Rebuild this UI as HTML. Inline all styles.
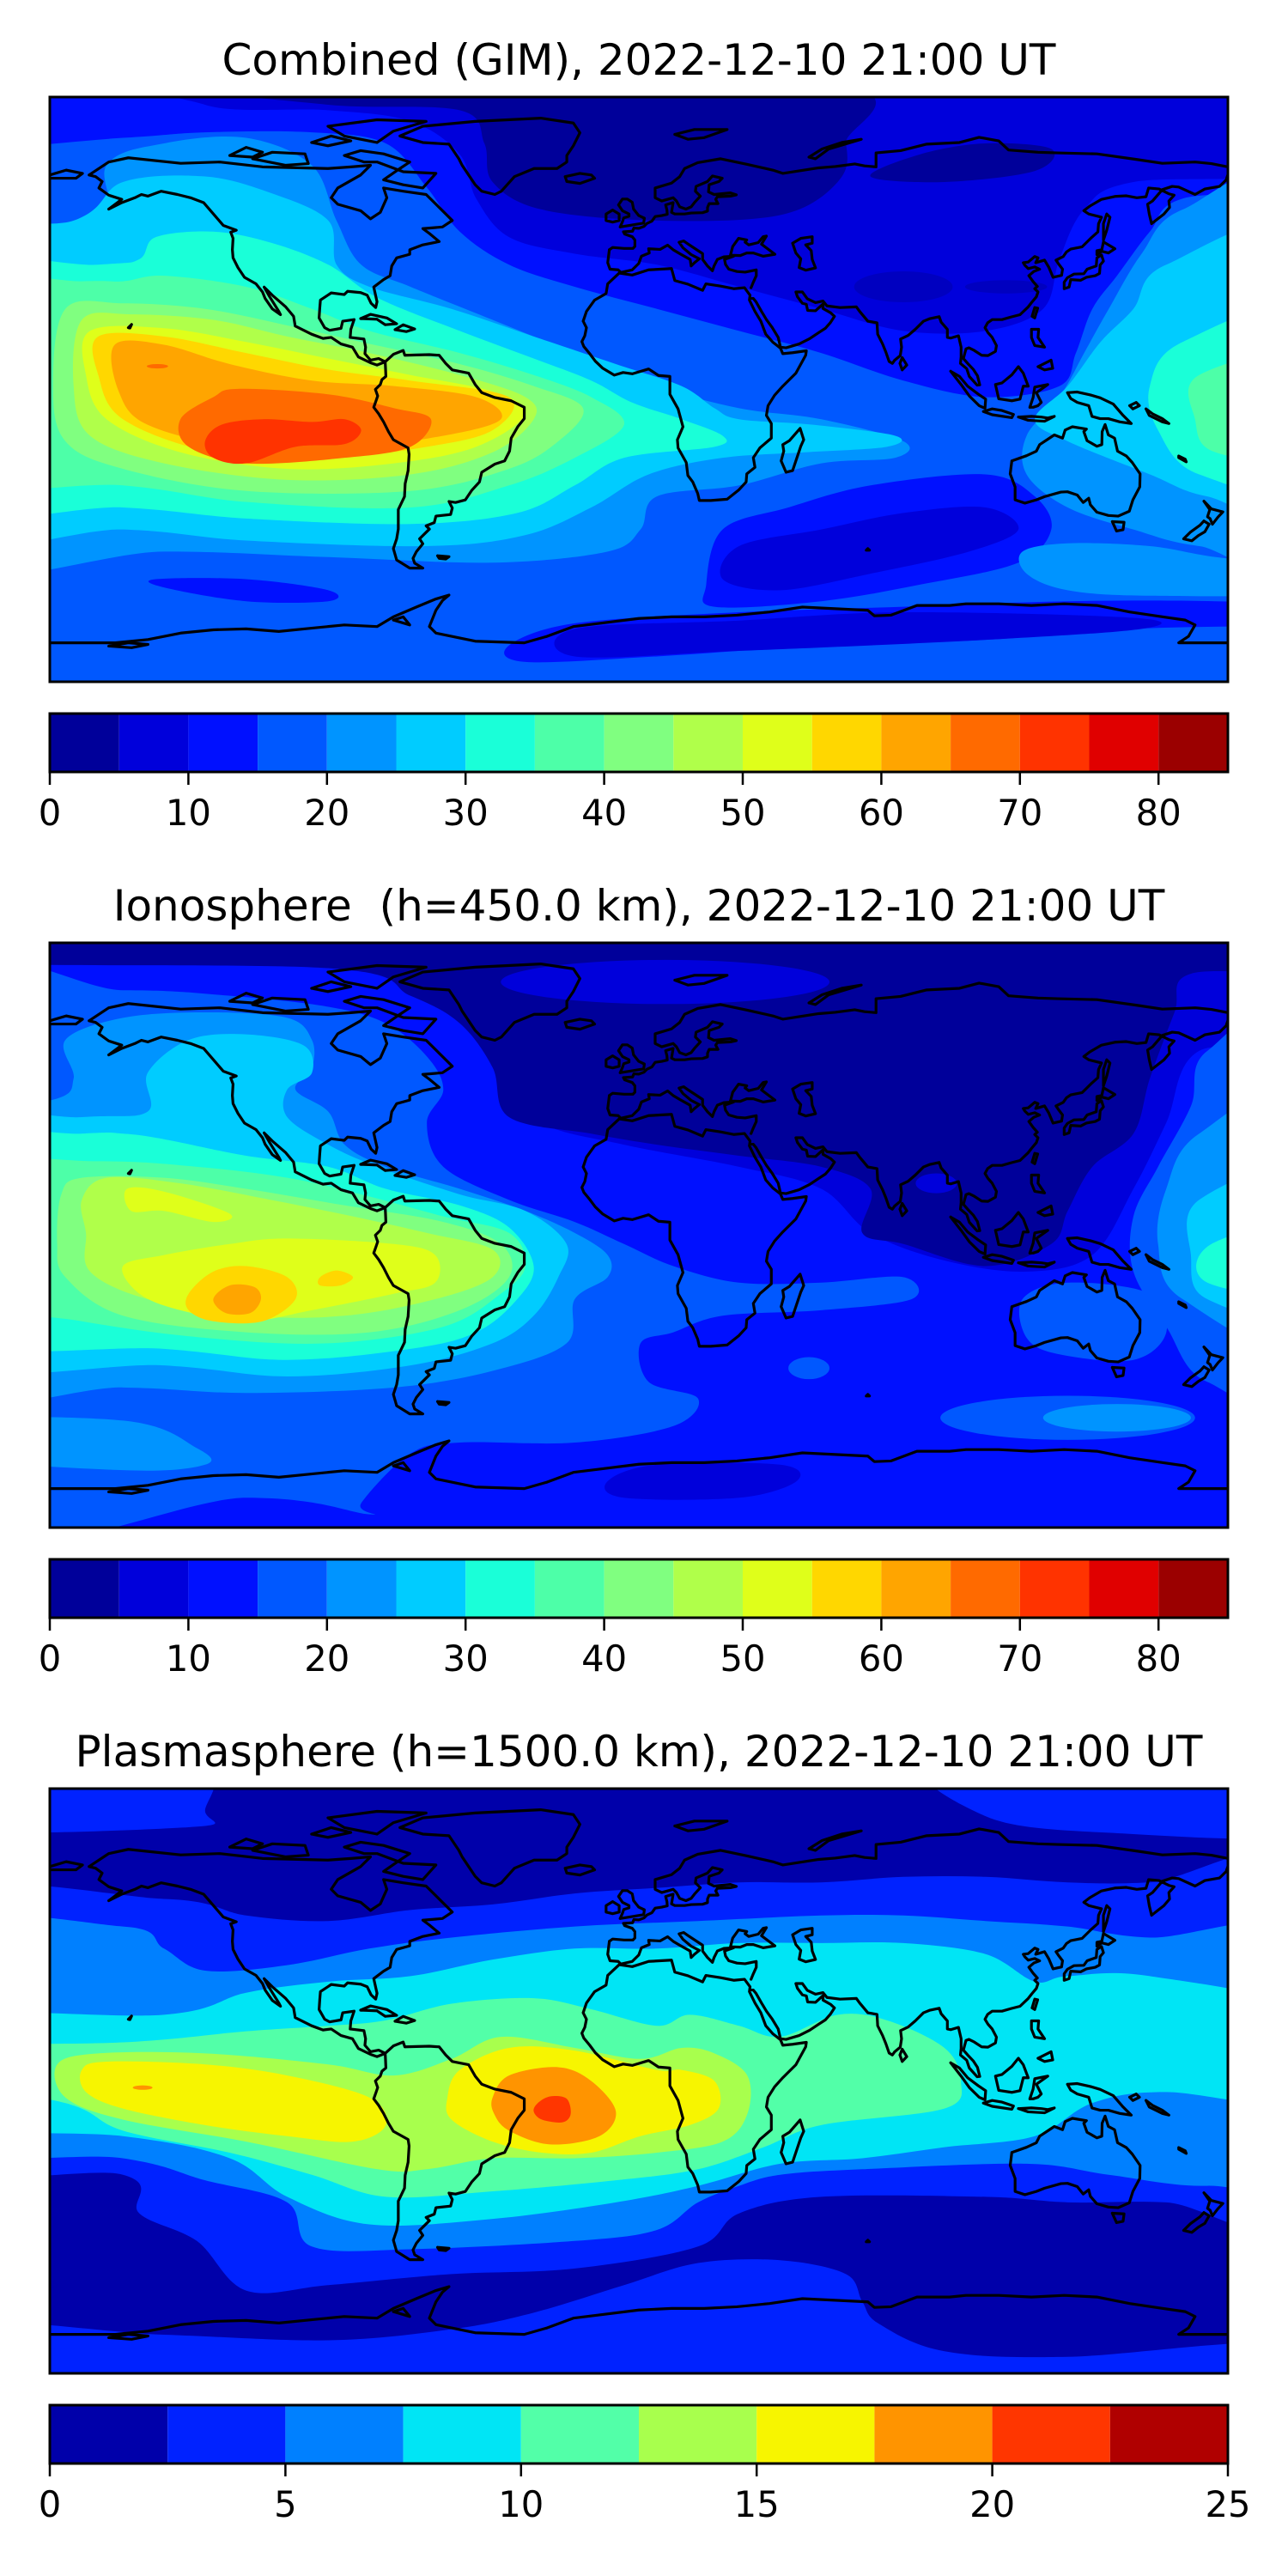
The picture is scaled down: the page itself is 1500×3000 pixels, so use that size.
<!DOCTYPE html>
<html><head><meta charset="utf-8"><style>
html,body{margin:0;padding:0;background:#fff;}
svg{display:block;}
text{font-family:"DejaVu Sans","Liberation Sans",sans-serif;fill:#000;}
.c{fill:none;stroke:#000;stroke-width:3.2;stroke-linejoin:round;stroke-linecap:round;vector-effect:non-scaling-stroke;}
</style></head><body>
<svg id="root" width="1500" height="3000" viewBox="0 0 1500 3000" xmlns="http://www.w3.org/2000/svg" xmlns:xlink="http://www.w3.org/1999/xlink">
<defs>
<g id="coast">
<polyline class="c" points="-168,66 -162,70 -156,71.3 -140,69.6 -128,70 -115,68.5 -95,68 -88,68.5 -82,69 -85,66 -92,62 -94,59 -92,57 -85,55 -82,52.5 -79,54.5 -77,59 -78,62 -72,61 -65,60 -61,56 -57,52 -60,50 -66,49.5 -64,48 -61,45.5 -66,44.5 -70,43 -70,41.6 -74,40.5 -75.5,38 -76,35 -78,33.8 -81,31.5 -80,27 -80.4,25.2 -81.8,26.5 -83,29 -85,29.8 -89,30.2 -90,29.2 -94,29.7 -97.3,27.5 -97.5,25 -97.7,22 -96,19 -94.5,18.2 -91,18.8 -90.5,21 -87,21.5 -88,18.5 -88.2,16 -84,15.5 -83.5,13 -83.7,11 -82,9 -79.5,9.5 -77.5,8.5 -80,7.5 -82,8.2 -85.7,10 -87.5,13 -91,14 -94,16 -96.5,15.7 -100,17 -105,19.5 -105.5,22.5 -108,25.5 -112,29 -114.5,31.5 -112.8,28.5 -110,24 -109.5,23 -112,24.8 -114.2,28 -115,30 -117,32.5 -120.5,34.5 -122.5,37.5 -124,40.5 -124.2,43 -124,46.5 -124.7,48.4 -123,49 -127,50.5 -130,54 -133,57.5 -137,59 -141,60 -146,61 -150,59.5 -152,60 -154,59 -158,57.5 -162,55.5 -158,58.5 -162,59.8 -165,62 -164,64 -166,65.5 -168,66"/>
<polyline class="c" points="-73,78 -66,81 -50,82.5 -30,83.5 -20,82 -18,79 -20,75 -22,72 -22,70 -25,68 -32,68 -38,65.5 -42,61 -44,60 -48,61 -50,63 -52,66 -54,69 -55,71 -58,75.5 -66,76 -73,78"/>
<polyline class="c" points="-62,66.5 -66,62 -72,63 -78,64.5 -73,68 -70,70 -78,72.5 -85,73.5 -90,72 -84,70 -80,70 -72,67 -62,66.5"/>
<polyline class="c" points="-80,76 -75,79.5 -65,82.5 -80,83 -95,81 -90,78 -80,76"/>
<polyline class="c" points="-118,71 -112,73 -102,72.5 -101,69.5 -108,69 -118,71"/>
<polyline class="c" points="-125,72 -120,74.5 -115,73 -118,71.5 -125,72"/>
<polyline class="c" points="-100,76 -94,78 -88,76.5 -95,75 -100,76"/>
<polyline class="c" points="-77.5,8.5 -75,10.8 -72,12 -71.5,10.5 -68,10.6 -64,10.7 -61,10.5 -59,8 -57,6 -52,5 -50,1.5 -48,-1 -44,-2.5 -39,-3.5 -35,-5.5 -35,-9 -37,-11.5 -39,-15 -39.5,-19 -41,-22 -44,-23 -48,-25.5 -48.7,-28.5 -51,-31 -53,-34 -56,-34.8 -58,-34.5 -57,-36.5 -57.5,-38.5 -62,-39 -62.5,-41 -65,-42 -64,-43 -67,-46 -66,-47.5 -68,-50 -69,-52 -68.5,-53.5 -66,-55 -70,-55 -74,-52.5 -75,-49 -74,-46 -73.5,-43 -73.5,-40 -73.5,-37 -71.6,-33 -71.4,-29 -70.5,-25 -70.2,-20 -70.5,-18 -75,-15.5 -76.5,-13 -78,-10 -79.5,-7.5 -81,-5.5 -80.3,-3.5 -79.8,-2 -80.5,0 -79,1.5 -78.5,3 -77.3,4 -77.4,6.5 -77.5,8.5"/>
<polyline class="c" points="-85,21.8 -82,23.1 -77,22 -74,20.2 -77.5,19.9 -80,21.6 -85,21.8"/>
<polyline class="c" points="-74.5,18.4 -72,19.9 -68.5,18.6 -71,17.8 -74.5,18.4"/>
<polyline class="c" points="-61.5,-51.2 -58,-51.5 -59,-52.2 -61,-52 -61.5,-51.2"/>
<polyline class="c" points="-156,19 -155,20 -155.5,18.9 -156,19"/>
<polyline class="c" points="-17,21 -16,24 -13.5,27.5 -10,29.5 -9.5,32.5 -6,35.8 -2,35.2 3,36.8 10,37.2 11,33.5 15,32.4 19.5,30.5 20.5,32.5 25,31.8 29,31 32.3,31.3 34,29 33.8,27.5 35.5,24 37.3,21 38.8,17 41,14.5 43.3,12.7 44,11 47,11.3 51.2,11.9 51,10.5 48,5 44,1 41.5,-1.8 39.5,-5 39,-8 40.5,-10.5 40.5,-15 37,-18 35,-21 35.5,-24 33,-26 32.8,-28.5 30.5,-31 27,-33.8 22,-34.2 18.5,-34.2 18,-32 16.5,-28.5 15,-26.5 14.5,-22.5 12,-18 11.8,-15.5 13.5,-11.5 12,-6 9.5,-1.5 9.5,2 9.5,4 6,4.3 3,6.3 -2,4.8 -4.8,5.2 -7.5,4.4 -11,6.5 -13.3,8.7 -15,11 -16.8,13.2 -17.4,14.7 -16.5,16.5 -16,19 -17,21"/>
<polyline class="c" points="49.3,-12 50.4,-15.5 49.5,-17.5 48,-22 47,-25 45,-25.5 43.5,-22 44.3,-19 44,-17 46,-15.8 48,-13.5 49.3,-12"/>
<polyline class="c" points="-9,43 -9.5,39 -8.8,37 -6.3,36.8 -5.5,36 -2,36.8 0,38.8 0.8,41 3.2,42 3,43.3 6.5,43.1 8.8,44.4 10.5,43 12.5,41.8 15.7,40 16,38 17,39 18.5,40.2 16,41.5 13.5,43.6 12.3,45.3 13.7,45.7 15,44.8 19.5,41.8 19.5,40 21,38 22.5,36.5 23,38 24,40 26,40.8 29,41 26.2,40 26.5,38.5 27.5,37 30,36.3 32.5,36.1 35.9,36.8 35.9,35 35,33 34.3,31.3"/>
<polyline class="c" points="34.6,28 35,28 35.8,27 37.5,24 39,21.5 40.8,19 42.6,16 43.3,13 45,12.8 49,14 52.2,15.6 55,17.5 57,18.8 58.5,20.5 59.8,22.5 58.6,23.6 56.3,24.9 56.3,26.3 54,24.2 51.6,24.3 51.2,26.2 50,26.5 48.5,28.5 48,30 50,30 51.5,27.9 54,26.7 56.3,27.2 57.5,25.7 61.5,25.2 66.5,25.4 67.5,24 70,21 72.8,20.5 73,17 74.5,14 75.5,11.5 76.5,8.6 77.5,8 78.2,9 79.9,10.4 80.3,13 80,15.5 82.3,16.6 84.5,18.5 87,21 89,21.8 91.8,22.4 92.4,20.7 94.3,18.5 94.3,16 95.3,15.8 97.7,16.5 98.5,13 98.5,10 98.3,8 100.2,6.4 101,4 103.4,1.3 104.2,1.4 103.5,4.2 102.2,6.2 100.5,8 99.2,9.5 100,12.5 100.9,12.8 102.5,12 104.8,10.5 106.7,10.4 109,11.7 109.3,13.5 108,16 106.7,17.5 105.8,19 106.6,20.5 108,21.5 109.5,21.5 111,21.5 113.8,22.3 116.5,23 119,25.4 120,26.7 121.5,28.5 122,30 121,31 121.8,31.7 120.5,33.2 119.2,35 120.7,36.3 122.5,37 121,37.7 119,37.2 118,38.2 117.5,39 119,39.2 121,40.9 122,40.5 121.3,39 124,39.8 125.3,37.6 126.6,34.5 129.2,35.1 129.5,37 128.3,38.6 127.5,39.8 129.7,40.9 130.7,42.3 132,43.2 135.5,43.9 138.2,46.6 140.3,48.5 140.5,51 141.4,53 137.5,54 136,55 137.8,56.4 141.4,58.5 145.5,59.4 149,59.6 152.2,59 155,59.3 155.8,62 159,61.7 162,60.2 163.6,59.8 162,58 162.2,56 160.5,54 156.7,51 156,54 155.5,57 157,58 160,61.5 163,62.5 165,62.3 170,60 173,61.7 177.5,62.5 179.5,64.5 180,66"/>
<polyline class="c" points="180,68.5 175,69.5 170,70 160,69.6 152,70.8 140,72.5 128,72.8 122,73 113,73.7 110,76.5 104,77.6 98,76 88,75.5 80,73.5 72.5,72.8 72.5,68.5 69,68.8 66,69.4 60,68.6 55,68.2 44,66.5 41,67.5 33,69.3 25,71 18,69.8 14,68 12.5,65.5 10,63.5 5,62 5,59 7,58 10.5,59 11.5,58 12.5,56.2 14.4,55.5 16,56.2 17,57.5 18.8,59.5 17.3,61 17.5,62.5 21,64 22.5,65.7 25.5,65 24.5,64 21.5,63 21.3,60.8 23,60 28,60.5 29.8,59.9 28,59.5 24,59.3 23.5,58.5 24.2,57.2 21.5,57.2 21,56 21,54.9 19.5,54.4 16,54.3 14,54 11,54 10,54.5 10.5,57.5 8.2,56.8 8.6,55.2 8.7,53.9 7,53.5 5,53.2 4,51.8 2.5,51.1 1.6,50.2 0,49.6 -1.5,49.7 -1.9,48.7 -4.7,48.5 -4.3,47.8 -2,47 -1.2,46 -1.2,44 -1.8,43.4 -4.5,43.4 -8,43.7 -9,43"/>
<polyline class="c" points="-180,66 -175,67.5 -170,66.5 -172,65 -180,65"/>
<polyline class="c" points="28,41.3 28.7,44 30.5,46.5 33,46 32.5,45.3 33.6,44.5 36.5,45.2 38,47 39,47.2 37.5,44.7 41.6,41.6 38,41 35,42 33,42 31,41.2 28,41.3"/>
<polyline class="c" points="47,45 49.5,46.5 53,47 53,45 51,44.5 52.7,42.7 53,40 54,37.4 51,36.7 49,37.5 49.5,40.2 48,42 47,45"/>
<polyline class="c" points="-5.7,50 1.5,51.2 1.7,52.7 0,53.5 -1.6,55.5 -2,57.6 -3.5,58.6 -5,58.6 -6.2,56.8 -5,55 -3,54 -3,53.3 -4.6,52.8 -5,51.6 -5.7,50"/>
<polyline class="c" points="-6,52 -6,54 -8,55.2 -10,54 -10,52 -8,51.5 -6,52"/>
<polyline class="c" points="-22,64 -22.5,65.5 -18,66.5 -14.5,66 -13.5,65 -18,63.4 -22,64"/>
<polyline class="c" points="11,78.5 17,80 27,80 20,77.5 15,77 11,78.5"/>
<polyline class="c" points="52,71.5 56,74 62,76 68,77 58,74 54,71 52,71.5"/>
<polyline class="c" points="130,31 131.5,31.5 132,33.8 135,33.6 136.8,34.5 139.5,35 140.8,35.7 141,38.3 142,39.5 141.4,41.4 140,40.5 139.8,38 137,37 136,35.6 133,35.5 131,34.4 130,33 130,31"/>
<polyline class="c" points="140,41.5 141.5,42.5 143.5,42 145.5,43.3 142,45.4 141.5,43 140,42.7 140,41.5"/>
<polyline class="c" points="142,46 143,49 144,53 143,54 142,51 142,46"/>
<polyline class="c" points="120.2,22.5 121,22 121.9,25 121,25.2 120.2,22.5"/>
<polyline class="c" points="79.8,8 80.5,9.8 81.9,7.5 80.5,6 79.8,8"/>
<polyline class="c" points="120,18.5 122.2,18.5 122,16 124,13 121,13.5 120,16 120,18.5"/>
<polyline class="c" points="122,7 126,9 126.5,6.5 124,6 122,7"/>
<polyline class="c" points="109,1.5 110,-2.9 114,-3.5 116.5,-3 117.5,1 119,1 117.5,5 116,7 114,4.5 111,2 109,1.5"/>
<polyline class="c" points="95.3,5.6 98,4 100.5,1 103.8,-1.5 106,-3 105.8,-5.8 104,-5 101,-2 98.5,1.5 95.3,5.6"/>
<polyline class="c" points="105.3,-6.8 108,-6 111,-6.5 114.5,-7.7 114,-8.7 108,-7.8 105.3,-6.8"/>
<polyline class="c" points="116,-8.5 120,-8.3 123,-8.5 125,-8.8 127,-8.3 124,-9.8 119,-9.5 116,-8.5"/>
<polyline class="c" points="119.5,-5.5 120.5,-2.5 121,0.7 125,1.5 121.5,-1 123,-4 122,-5 120.5,-5.5 119.5,-5.5"/>
<polyline class="c" points="131,-1 134,-0.8 138,-1.7 141,-2.6 145,-4.5 148,-8 150.5,-10.5 147,-10 143.5,-9 141,-9 138.5,-8.3 137.5,-5 134,-4 132,-2.8 131,-1"/>
<polyline class="c" points="150,-5 152,-4 153,-5 151,-6 150,-5"/>
<polyline class="c" points="155,-6 157,-7.5 160,-9 162,-10.5 160,-10 156,-8 155,-6"/>
<polyline class="c" points="165,-20.5 167,-21.5 167.3,-22.3 165,-21 165,-20.5"/>
<polyline class="c" points="114,-22 113.5,-26 115,-30 115,-34 118,-35 121.5,-34 124,-33 129,-31.6 131,-31.5 134,-32.5 135.8,-34.8 137.5,-33.5 138,-35.5 140,-37.8 143.5,-38.8 146.5,-39 149.9,-37.5 151,-34 153.1,-30 153.2,-26 150.8,-22.5 149,-20.5 146.3,-19 145.4,-15 143.5,-14 142.5,-10.8 141.6,-13 141.5,-17 140,-17.5 137,-15.8 136,-13 136.8,-12.2 132.5,-11.5 130.3,-12.5 129.5,-15 127,-14 125.5,-15 122.5,-17 121.5,-19 118.5,-20.4 114,-22"/>
<polyline class="c" points="144.7,-40.7 148.3,-40.9 148,-43.2 146,-43.6 144.7,-40.7"/>
<polyline class="c" points="172.7,-34.4 175,-36.8 178.5,-37.7 177,-39.3 175.3,-41.5 174.6,-39.8 173.8,-39.2 174.5,-37 172.7,-34.4"/>
<polyline class="c" points="172.7,-40.5 174.3,-41.5 173,-43.8 171,-45 169,-46.6 166.5,-46 168.5,-44 171.5,-41.8 172.7,-40.5"/>
<polyline class="c" points="-180,-78 -160,-78 -150,-77 -140,-75 -130,-74 -120,-73.7 -110,-74.5 -100,-73.5 -90,-72.5 -80,-73 -75,-70 -68,-67 -62,-64.5 -58,-63.3 -60,-65 -62,-68 -64,-73 -62,-75 -50,-77.5 -35,-78 -28,-76 -20,-73 -12,-72 0,-70.5 10,-70 20,-70 30,-69.5 40,-68.5 50,-67 60,-67.5 70,-68 72,-69.7 77,-69.5 85,-66.5 95,-66.5 100,-66 110,-66 120,-66.5 130,-66 140,-66.5 150,-68.5 160,-70 167,-71 170,-72.5 168,-76 165,-78 180,-78"/>
<polyline class="c" points="-150,-78.5 -155,-79.5 -162,-79 -156,-78 -150,-78.5"/>
<polyline class="c" points="-75,-71 -70,-72.5 -72,-70 -75,-71"/>
<polyline class="c" points="70,-49 70.5,-49.5 69.5,-49.5 70,-49"/>
</g>
</defs>

<!-- ============ PANEL 1 ============ -->
<text x="744" y="87" font-size="50" text-anchor="middle">Combined (GIM), 2022-12-10 21:00 UT</text>
<svg x="58" y="113" width="1372" height="681" viewBox="0 0 1434 1060" preserveAspectRatio="none">
<g transform="translate(-61,-176)">
<rect x="61" y="176" width="1434" height="1060" fill="#0058ff"/>
<polygon class="s" fill="#0010ff" points="-100,176 1600,176 1600,330 1440,360 1400,420 1360,500 1330,560 1310,640 1290,700 1200,720 1100,690 1000,640 900,600 800,560 700,520 620,480 560,420 520,340 470,260 380,240 250,240 150,250 -100,270"/>
<polygon class="s" fill="#0010ff" points="860,1060 880,960 960,920 1060,880 1200,860 1260,900 1280,960 1240,1020 1120,1060 1000,1090 870,1100"/>
<polygon class="s" fill="#0010ff" points="620,1170 700,1130 900,1110 1100,1100 1300,1090 1480,1090 1600,1100 1600,1130 1380,1140 1200,1160 1000,1170 800,1190 640,1200"/>
<polygon class="s" fill="#0010ff" points="190,1050 300,1050 400,1070 400,1090 300,1090 200,1065"/>
<polygon class="s" fill="#0000db" points="200,100 1600,100 1600,300 1380,330 1320,380 1290,470 1270,560 1200,600 1100,600 1000,560 900,520 800,480 700,460 620,430 580,360 560,280 500,220 400,200 250,190"/>
<polygon class="s" fill="#0000db" points="880,1050 900,990 1000,960 1100,930 1200,920 1240,960 1180,1000 1060,1040 950,1070"/>
<polygon class="s" fill="#0000db" points="700,1140 900,1125 1100,1110 1380,1120 1390,1140 1200,1160 900,1180 700,1190"/>
<polygon class="s" fill="#00009a" points="240,150 1000,150 1030,260 1020,330 950,390 800,400 660,380 600,330 590,260 560,200 400,190"/>
<polygon class="s" fill="#00009a" points="1060,320 1120,280 1200,260 1280,270 1260,310 1150,330"/>
<ellipse fill="#0000c0" cx="1100" cy="520" rx="60" ry="28"/>
<ellipse fill="#0000c0" cx="1225" cy="520" rx="50" ry="12"/>
<polygon class="s" fill="#0094ff" points="1245,1000 1300,985 1400,990 1480,1010 1600,1030 1600,1075 1400,1080 1300,1070 1250,1040"/>
<polygon class="s" fill="#0094ff" points="-100,460 120,430 130,300 200,260 300,250 380,300 410,400 440,480 500,520 600,580 700,640 800,700 900,740 1000,760 1100,800 1090,830 1000,840 900,880 800,900 780,960 740,1000 600,1020 400,1010 200,1000 -100,1010"/>
<polygon class="s" fill="#0094ff" points="1600,330 1440,380 1390,460 1350,560 1320,640 1290,720 1250,790 1250,860 1300,920 1380,960 1460,990 1600,1000"/>
<polygon class="s" fill="#00ccff" points="-100,460 90,400 150,330 250,320 330,350 400,400 410,480 450,520 550,560 650,610 750,660 830,700 870,740 900,760 990,770 1090,790 1080,810 980,820 880,830 790,860 720,920 640,970 520,990 300,980 150,960 -100,960"/>
<polygon class="s" fill="#00ccff" points="1600,420 1420,480 1380,560 1340,620 1300,700 1260,760 1300,800 1400,860 1470,900 1600,920"/>
<polygon class="s" fill="#1affd8" points="-100,500 120,480 170,470 190,430 260,420 330,440 400,480 460,540 560,600 650,650 720,690 770,730 830,760 880,790 870,810 760,830 700,880 630,930 500,950 300,940 150,920 -100,910"/>
<polygon class="s" fill="#1affd8" points="1600,560 1440,620 1400,700 1410,780 1460,860 1600,880"/>
<polygon class="s" fill="#4dffa8" points="-100,520 100,510 150,510 200,500 300,520 380,560 450,600 560,640 650,680 720,720 760,770 700,830 620,880 500,920 300,910 150,880 -100,860"/>
<polygon class="s" fill="#4dffa8" points="1600,640 1460,680 1455,760 1480,820 1600,830"/>
<polygon class="s" fill="#80ff80" points="80,560 150,550 250,560 350,590 440,620 560,660 650,700 710,740 680,800 620,850 500,890 300,890 150,850 80,800 65,700"/>
<polygon class="s" fill="#b0ff4a" points="100,580 160,570 260,580 350,610 450,640 560,680 640,720 650,760 600,820 500,860 350,870 200,840 110,790 90,700"/>
<polygon class="s" fill="#dfff1a" points="110,600 200,595 300,620 400,650 500,680 600,710 640,750 580,810 480,840 350,850 220,820 130,760 105,680"/>
<polygon class="s" fill="#ffd700" points="120,610 200,610 300,640 400,670 500,690 620,720 600,780 520,810 400,830 260,820 150,760 120,680"/>
<polygon class="s" fill="#ffa500" points="140,625 200,625 280,660 380,690 480,700 580,720 610,760 540,790 430,810 290,810 180,770 145,710"/>
<polygon class="s" fill="#ff6a00" points="220,760 260,720 290,705 400,715 480,740 525,760 500,810 420,830 300,840 230,810"/>
<polygon class="s" fill="#ff3300" points="250,800 270,770 320,760 380,765 420,760 440,780 420,805 360,810 300,840 260,830"/>
<ellipse fill="#ff6a00" cx="192" cy="664" rx="13" ry="4"/>
</g>
<use xlink:href="#coast" href="#coast" transform="scale(3.983 5.889) translate(180 90) scale(1 -1)"/>
</svg>
<rect x="58" y="113" width="1372" height="681" fill="none" stroke="#000" stroke-width="3"/>

<!-- colorbar 1 -->
<g>
<rect x="58" y="831" width="80.7" height="68" fill="#00009a"/>
<rect x="138.7" y="831" width="80.7" height="68" fill="#0000db"/>
<rect x="219.4" y="831" width="80.7" height="68" fill="#0010ff"/>
<rect x="300.1" y="831" width="80.7" height="68" fill="#0058ff"/>
<rect x="380.8" y="831" width="80.7" height="68" fill="#0094ff"/>
<rect x="461.5" y="831" width="80.7" height="68" fill="#00ccff"/>
<rect x="542.2" y="831" width="80.7" height="68" fill="#1affd8"/>
<rect x="622.9" y="831" width="80.7" height="68" fill="#4dffa8"/>
<rect x="703.6" y="831" width="80.7" height="68" fill="#80ff80"/>
<rect x="784.3" y="831" width="80.7" height="68" fill="#b0ff4a"/>
<rect x="865" y="831" width="80.7" height="68" fill="#dfff1a"/>
<rect x="945.7" y="831" width="80.7" height="68" fill="#ffd700"/>
<rect x="1026.4" y="831" width="80.7" height="68" fill="#ffa500"/>
<rect x="1107.1" y="831" width="80.7" height="68" fill="#ff6a00"/>
<rect x="1187.8" y="831" width="80.7" height="68" fill="#ff3300"/>
<rect x="1268.5" y="831" width="80.7" height="68" fill="#e00000"/>
<rect x="1349.2" y="831" width="80.8" height="68" fill="#9b0000"/>
<rect x="58" y="831" width="1372" height="68" fill="none" stroke="#000" stroke-width="3"/>
<path d="M58,899v15M219.4,899v15M380.8,899v15M542.2,899v15M703.6,899v15M865,899v15M1026.4,899v15M1187.8,899v15M1349.2,899v15" stroke="#000" stroke-width="2.5"/>
<g font-size="41.7" text-anchor="middle">
<text x="58" y="961">0</text><text x="219.4" y="961">10</text><text x="380.8" y="961">20</text><text x="542.2" y="961">30</text><text x="703.6" y="961">40</text><text x="865" y="961">50</text><text x="1026.4" y="961">60</text><text x="1187.8" y="961">70</text><text x="1349.2" y="961">80</text>
</g>
</g>

<!-- ============ PANEL 2 ============ -->
<text x="744" y="1072" font-size="50" text-anchor="middle" xml:space="preserve">Ionosphere  (h=450.0 km), 2022-12-10 21:00 UT</text>
<svg x="58" y="1098" width="1372" height="681" viewBox="0 0 1434 1060" preserveAspectRatio="none">
<g transform="translate(-61,-154)">
<rect x="61" y="154" width="1434" height="1060" fill="#0010ff"/>
<polygon class="s" fill="#0000db" points="-100,100 1600,100 1600,330 1460,350 1420,480 1380,600 1330,720 1250,750 1150,730 1060,680 1000,600 900,560 760,520 660,480 640,400 580,280 500,200 -100,180"/>
<polygon class="s" fill="#00009a" points="-100,100 1600,100 1600,200 1450,210 1430,280 1400,400 1380,500 1330,560 1300,640 1280,700 1200,740 1100,700 1050,680 1060,600 1000,560 900,540 800,520 720,500 620,470 600,380 560,300 500,250 400,200 -100,185"/>
<ellipse fill="#0000db" cx="810" cy="225" rx="200" ry="40"/>
<ellipse fill="#0000db" cx="1140" cy="590" rx="25" ry="18"/>
<polygon class="s" fill="#0000db" points="740,1130 800,1100 950,1100 970,1130 900,1160 760,1160"/>
<polygon class="s" fill="#0058ff" points="-100,250 150,240 280,250 400,270 470,300 520,360 540,420 520,480 540,560 620,620 700,660 760,700 820,740 900,770 1000,770 1100,760 1110,800 1000,820 880,830 820,860 780,880 790,950 850,980 820,1030 700,1060 560,1060 500,1080 440,1170 450,1190 300,1160 -100,1190"/>
<polygon class="s" fill="#0058ff" points="1245,800 1300,770 1400,790 1420,860 1380,910 1290,900 1250,870"/>
<polygon class="s" fill="#0058ff" points="1600,280 1470,350 1450,450 1410,560 1380,650 1380,750 1420,850 1470,950 1600,960"/>
<ellipse fill="#0058ff" cx="1300" cy="1015" rx="155" ry="40"/>
<ellipse fill="#0094ff" cx="1360" cy="1015" rx="90" ry="25"/>
<ellipse fill="#0058ff" cx="985" cy="925" rx="25" ry="20"/>
<polygon class="s" fill="#0094ff" points="-100,470 61,440 90,400 80,330 150,290 250,280 350,290 380,330 380,380 360,420 400,460 420,520 470,560 560,600 640,640 700,680 740,720 740,760 700,800 690,880 600,930 480,960 300,970 150,960 -100,960"/>
<polygon class="s" fill="#0094ff" points="-100,1020 150,1020 240,1070 250,1100 150,1110 -100,1080"/>
<polygon class="s" fill="#0094ff" points="1600,420 1460,500 1420,600 1410,700 1440,800 1600,880"/>
<polygon class="s" fill="#00ccff" points="-100,490 100,470 180,460 180,390 230,330 300,320 370,340 380,390 350,420 350,470 400,520 460,560 560,610 640,640 690,700 680,760 650,830 600,880 500,920 350,940 200,920 -100,900"/>
<polygon class="s" fill="#00ccff" points="1600,560 1460,620 1450,720 1470,800 1600,830"/>
<polygon class="s" fill="#1affd8" points="-100,520 100,500 150,500 200,510 300,540 400,560 470,600 560,630 620,670 650,740 630,800 580,860 500,890 350,910 200,890 -100,860"/>
<polygon class="s" fill="#1affd8" points="1600,660 1475,700 1470,770 1600,790"/>
<polygon class="s" fill="#4dffa8" points="-100,560 120,550 240,560 350,580 440,610 540,650 620,680 640,740 610,790 540,850 400,880 250,870 100,840 -100,780"/>
<polygon class="s" fill="#80ff80" points="75,610 100,580 200,580 300,600 420,630 540,660 610,700 620,760 560,820 450,860 300,860 150,830 80,760 70,700"/>
<polygon class="s" fill="#b0ff4a" points="100,620 130,580 220,590 330,620 430,650 520,680 600,710 600,760 530,800 420,830 300,830 180,800 110,750 105,680"/>
<polygon class="s" fill="#dfff1a" points="155,600 200,605 280,645 260,660 200,640 160,640"/>
<polygon class="s" fill="#dfff1a" points="150,740 200,720 280,700 350,690 480,700 530,720 530,770 480,790 380,820 300,840 220,820 170,790"/>
<polygon class="s" fill="#ffd700" points="230,790 260,750 300,740 350,760 360,800 320,840 260,840 230,820"/>
<polygon class="s" fill="#ffd700" points="390,760 410,748 430,760 415,775 390,775"/>
<polygon class="s" fill="#ffa500" points="260,800 280,775 310,778 318,800 305,825 275,825"/>
</g>
<use xlink:href="#coast" href="#coast" transform="scale(3.983 5.889) translate(180 90) scale(1 -1)"/>
</svg>
<rect x="58" y="1098" width="1372" height="681" fill="none" stroke="#000" stroke-width="3"/>

<!-- colorbar 2 -->
<g transform="translate(0,985)">
<rect x="58" y="831" width="80.7" height="68" fill="#00009a"/>
<rect x="138.7" y="831" width="80.7" height="68" fill="#0000db"/>
<rect x="219.4" y="831" width="80.7" height="68" fill="#0010ff"/>
<rect x="300.1" y="831" width="80.7" height="68" fill="#0058ff"/>
<rect x="380.8" y="831" width="80.7" height="68" fill="#0094ff"/>
<rect x="461.5" y="831" width="80.7" height="68" fill="#00ccff"/>
<rect x="542.2" y="831" width="80.7" height="68" fill="#1affd8"/>
<rect x="622.9" y="831" width="80.7" height="68" fill="#4dffa8"/>
<rect x="703.6" y="831" width="80.7" height="68" fill="#80ff80"/>
<rect x="784.3" y="831" width="80.7" height="68" fill="#b0ff4a"/>
<rect x="865" y="831" width="80.7" height="68" fill="#dfff1a"/>
<rect x="945.7" y="831" width="80.7" height="68" fill="#ffd700"/>
<rect x="1026.4" y="831" width="80.7" height="68" fill="#ffa500"/>
<rect x="1107.1" y="831" width="80.7" height="68" fill="#ff6a00"/>
<rect x="1187.8" y="831" width="80.7" height="68" fill="#ff3300"/>
<rect x="1268.5" y="831" width="80.7" height="68" fill="#e00000"/>
<rect x="1349.2" y="831" width="80.8" height="68" fill="#9b0000"/>
<rect x="58" y="831" width="1372" height="68" fill="none" stroke="#000" stroke-width="3"/>
<path d="M58,899v15M219.4,899v15M380.8,899v15M542.2,899v15M703.6,899v15M865,899v15M1026.4,899v15M1187.8,899v15M1349.2,899v15" stroke="#000" stroke-width="2.5"/>
<g font-size="41.7" text-anchor="middle">
<text x="58" y="961">0</text><text x="219.4" y="961">10</text><text x="380.8" y="961">20</text><text x="542.2" y="961">30</text><text x="703.6" y="961">40</text><text x="865" y="961">50</text><text x="1026.4" y="961">60</text><text x="1187.8" y="961">70</text><text x="1349.2" y="961">80</text>
</g>
</g>

<!-- ============ PANEL 3 ============ -->
<text x="744" y="2057" font-size="50" text-anchor="middle">Plasmasphere (h=1500.0 km), 2022-12-10 21:00 UT</text>
<svg x="58" y="2083" width="1372" height="681" viewBox="0 0 1434 1060" preserveAspectRatio="none">
<g transform="translate(-61,-130)">
<rect x="61" y="130" width="1434" height="1060" fill="#0000aa"/>
<polygon class="s" fill="#0022ff" points="-100,80 230,80 250,170 230,200 -100,200"/>
<polygon class="s" fill="#0022ff" points="1150,80 1600,80 1600,210 1350,210 1200,180"/>
<polygon class="s" fill="#0022ff" points="-100,1105 200,1120 400,1130 550,1110 650,1080 760,1030 850,990 950,985 1030,1010 1050,1060 1070,1100 1150,1150 1300,1160 1600,1140 1600,1300 -100,1300"/>
<polygon class="s" fill="#0022ff" points="-100,340 200,330 300,360 400,370 500,350 600,340 700,320 800,310 900,300 1000,300 1100,290 1200,290 1300,300 1400,300 1600,280 1600,900 1420,880 1300,880 1200,870 1000,870 900,900 850,960 700,1000 550,1010 400,1030 300,1040 240,950 170,900 150,830 -100,790"/>
<polygon class="s" fill="#0080ff" points="-100,390 150,380 200,420 250,460 350,450 450,420 550,400 700,380 850,370 1000,360 1100,360 1200,370 1300,380 1400,400 1600,400 1600,820 1470,850 1350,830 1250,810 1050,820 950,830 900,850 850,880 800,930 700,950 500,965 380,960 350,880 250,840 150,800 -100,760"/>
<polygon class="s" fill="#00e5f5" points="-100,550 200,540 300,500 400,480 500,470 600,440 700,420 800,420 900,410 1000,410 1100,410 1200,430 1260,480 1300,470 1400,470 1600,540 1600,700 1420,680 1330,700 1260,760 1150,780 1050,800 950,810 850,850 750,880 600,910 450,920 350,870 280,800 150,760 -100,730"/>
<polygon class="s" fill="#52ffa8" points="-100,600 150,590 300,570 400,560 470,550 550,520 650,510 720,530 800,560 840,540 900,560 950,580 1020,540 1080,550 1150,600 1170,660 1150,710 1000,740 930,780 850,820 750,840 600,860 470,870 380,830 280,790 150,750 80,700 -100,650"/>
<polygon class="s" fill="#a8ff4d" points="70,630 120,610 250,610 400,630 480,650 550,620 610,580 700,600 780,620 830,600 870,610 910,650 910,720 880,770 800,790 700,800 600,800 520,820 460,820 300,770 150,730 80,690"/>
<polygon class="s" fill="#f7f500" points="100,640 130,625 250,630 350,650 450,690 470,740 430,770 350,760 250,740 150,710 105,680"/>
<polygon class="s" fill="#f7f500" points="545,690 560,640 620,600 700,605 800,640 830,640 870,660 875,710 840,740 780,760 720,790 660,790 600,770 550,730"/>
<polygon class="s" fill="#ff9400" points="600,690 620,650 680,635 720,660 750,715 730,760 670,775 620,750 602,720"/>
<ellipse fill="#ff9400" cx="174" cy="672" rx="12" ry="4"/>
<polygon class="s" fill="#ff3600" points="655,700 670,688 690,692 695,720 685,735 660,730 650,715"/>
</g>
<use xlink:href="#coast" href="#coast" transform="scale(3.983 5.889) translate(180 90) scale(1 -1)"/>
</svg>
<rect x="58" y="2083" width="1372" height="681" fill="none" stroke="#000" stroke-width="3"/>

<!-- colorbar 3 -->
<g transform="translate(0,1970)">
<rect x="58" y="831" width="137.2" height="68" fill="#0000aa"/>
<rect x="195.2" y="831" width="137.2" height="68" fill="#0022ff"/>
<rect x="332.4" y="831" width="137.2" height="68" fill="#0080ff"/>
<rect x="469.6" y="831" width="137.2" height="68" fill="#00e5f5"/>
<rect x="606.8" y="831" width="137.2" height="68" fill="#52ffa8"/>
<rect x="744" y="831" width="137.2" height="68" fill="#a8ff4d"/>
<rect x="881.2" y="831" width="137.2" height="68" fill="#f7f500"/>
<rect x="1018.4" y="831" width="137.2" height="68" fill="#ff9400"/>
<rect x="1155.6" y="831" width="137.2" height="68" fill="#ff3600"/>
<rect x="1292.8" y="831" width="137.2" height="68" fill="#b00000"/>
<rect x="58" y="831" width="1372" height="68" fill="none" stroke="#000" stroke-width="3"/>
<path d="M58,899v15M332.4,899v15M606.8,899v15M881.2,899v15M1155.6,899v15M1430,899v15" stroke="#000" stroke-width="2.5"/>
<g font-size="41.7" text-anchor="middle">
<text x="58" y="961">0</text><text x="332.4" y="961">5</text><text x="606.8" y="961">10</text><text x="881.2" y="961">15</text><text x="1155.6" y="961">20</text><text x="1430" y="961">25</text>
</g>
</g>
</svg>
<script>
(function(){
  var NS="http://www.w3.org/2000/svg";
  var polys=document.querySelectorAll("polygon.s");
  for(var k=0;k<polys.length;k++){
    var p=polys[k];
    var nums=p.getAttribute("points").trim().split(/[\s,]+/).map(Number);
    var pts=[];
    for(var i=0;i+1<nums.length;i+=2)pts.push([nums[i],nums[i+1]]);
    var n=pts.length; if(n<3)continue;
    var d="M"+pts[0][0]+","+pts[0][1];
    for(var i=0;i<n;i++){
      var p0=pts[(i-1+n)%n],p1=pts[i],p2=pts[(i+1)%n],p3=pts[(i+2)%n];
      var t=0.5/3;
      var c1x=p1[0]+(p2[0]-p0[0])*t,c1y=p1[1]+(p2[1]-p0[1])*t;
      var c2x=p2[0]-(p3[0]-p1[0])*t,c2y=p2[1]-(p3[1]-p1[1])*t;
      d+="C"+c1x.toFixed(1)+","+c1y.toFixed(1)+" "+c2x.toFixed(1)+","+c2y.toFixed(1)+" "+p2[0]+","+p2[1];
    }
    d+="Z";
    var path=document.createElementNS(NS,"path");
    path.setAttribute("d",d);
    path.setAttribute("fill",p.getAttribute("fill"));
    p.parentNode.replaceChild(path,p);
  }
})();
</script>
</body></html>
